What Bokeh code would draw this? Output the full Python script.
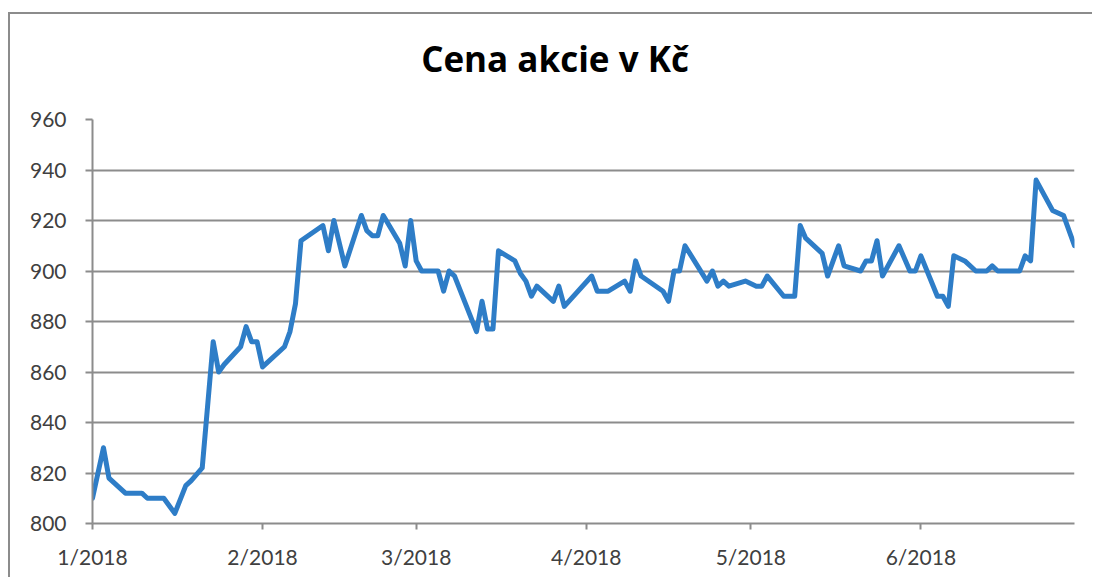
from datetime import datetime
from bokeh.plotting import figure
from bokeh.models import FixedTicker, Range1d, Div
from bokeh.layouts import column
from bokeh.embed import file_html
from bokeh.resources import INLINE

# ---- data ----
dates = [
    "2018-01-01", "2018-01-03", "2018-01-04", "2018-01-07", "2018-01-10", "2018-01-11",
    "2018-01-14", "2018-01-16", "2018-01-18", "2018-01-19", "2018-01-21", "2018-01-23",
    "2018-01-24", "2018-01-25", "2018-01-28", "2018-01-29", "2018-01-30", "2018-01-31",
    "2018-02-01", "2018-02-05", "2018-02-06", "2018-02-07", "2018-02-08", "2018-02-12",
    "2018-02-13", "2018-02-14", "2018-02-16", "2018-02-19", "2018-02-20", "2018-02-21",
    "2018-02-22", "2018-02-23", "2018-02-26", "2018-02-27", "2018-02-28", "2018-03-01",
    "2018-03-02", "2018-03-05", "2018-03-06", "2018-03-07", "2018-03-08", "2018-03-12",
    "2018-03-13", "2018-03-14", "2018-03-15", "2018-03-16", "2018-03-19", "2018-03-20",
    "2018-03-21", "2018-03-22", "2018-03-23", "2018-03-26", "2018-03-27", "2018-03-28",
    "2018-04-02", "2018-04-03", "2018-04-05", "2018-04-08", "2018-04-09", "2018-04-10",
    "2018-04-11", "2018-04-15", "2018-04-16", "2018-04-17", "2018-04-18", "2018-04-19",
    "2018-04-23", "2018-04-24", "2018-04-25", "2018-04-26", "2018-04-27", "2018-04-30",
    "2018-05-02", "2018-05-03", "2018-05-04", "2018-05-07", "2018-05-09", "2018-05-10",
    "2018-05-11", "2018-05-14", "2018-05-15", "2018-05-17", "2018-05-18", "2018-05-21",
    "2018-05-22", "2018-05-23", "2018-05-24", "2018-05-25", "2018-05-28", "2018-05-30",
    "2018-05-31", "2018-06-01", "2018-06-04", "2018-06-05", "2018-06-06", "2018-06-07",
    "2018-06-09", "2018-06-11", "2018-06-13", "2018-06-14", "2018-06-15", "2018-06-19",
    "2018-06-20", "2018-06-21", "2018-06-22", "2018-06-25", "2018-06-27", "2018-06-29",
]
prices = [
    810, 830, 818, 812, 812, 810,
    810, 804, 815, 817, 822, 872,
    860, 863, 870, 878, 872, 872,
    862, 870, 876, 887, 912, 918,
    908, 920, 902, 922, 916, 914,
    914, 922, 911, 902, 920, 904,
    900, 900, 892, 900, 898, 876,
    888, 877, 877, 908, 904, 899,
    896, 890, 894, 888, 894, 886,
    898, 892, 892, 896, 892, 904,
    898, 892, 888, 900, 900, 910,
    896, 900, 894, 896, 894, 896,
    894, 894, 898, 890, 890, 918,
    913, 907, 898, 910, 902, 900,
    904, 904, 912, 898, 910, 900,
    900, 906, 890, 890, 886, 906,
    904, 900, 900, 902, 900, 900,
    906, 904, 936, 924, 922, 910,
]
month_ticks = ["2018-01-01", "2018-02-01", "2018-03-01", "2018-04-01", "2018-05-01", "2018-06-01"]
month_labels = ["1/2018", "2/2018", "3/2018", "4/2018", "5/2018", "6/2018"]
y_ticks = [800, 820, 840, 860, 880, 900, 920, 940, 960]
title_text = "Cena akcie v Kč"

# ---- build ----
EPOCH = datetime(1970, 1, 1)
def to_ms(s):
    return int((datetime.strptime(s, "%Y-%m-%d") - EPOCH).total_seconds() * 1000)

xs = [datetime.strptime(d, "%Y-%m-%d") for d in dates]
tick_ms = [to_ms(t) for t in month_ticks]

GRID = "#8c8c8c"
FONT = "Lato"
W = 1082
TITLE_H = 60

title_div = Div(
    text=('<div style="width:%dpx; padding-top:27px; text-align:center; text-indent:8px; '
          'font-family:\'Open Sans\'; font-weight:bold; font-size:35px; line-height:35px; '
          'color:black; white-space:nowrap;">%s</div>') % (W, title_text),
    width=W, height=TITLE_H, margin=0)

p = figure(width=W, height=563 - TITLE_H, x_axis_type="datetime",
           output_backend="svg", toolbar_location=None,
           x_range=Range1d(datetime(2018, 1, 1), datetime(2018, 6, 29)),
           y_range=Range1d(800, 960),
           min_border_left=82, min_border_right=18,
           min_border_top=105 - TITLE_H, min_border_bottom=54, margin=0)
p.outline_line_color = None
p.background_fill_color = "white"
p.border_fill_color = "white"

p.line(xs, prices, line_color="#2E7DC7", line_width=5, line_join="round", line_cap="round")

# axes
p.xaxis.ticker = FixedTicker(ticks=tick_ms)
p.xaxis.major_label_overrides = {t: l for t, l in zip(tick_ms, month_labels)}
p.yaxis.ticker = FixedTicker(ticks=y_ticks)
for ax in (p.xaxis[0], p.yaxis[0]):
    ax.axis_line_color = GRID
    ax.axis_line_width = 2
    ax.major_tick_line_color = GRID
    ax.major_tick_line_width = 2
    ax.major_tick_in = 0
    ax.minor_tick_line_color = None
    ax.major_label_text_font = FONT
    ax.major_label_text_font_size = "21px"
    ax.major_label_text_color = "#404040"
p.yaxis.major_tick_out = 7
p.yaxis.major_label_standoff = 19
p.xaxis.major_tick_out = 6
p.xaxis.major_label_standoff = 14

p.xgrid.grid_line_color = None
p.ygrid.grid_line_color = GRID
p.ygrid.grid_line_width = 2
p.ygrid.ticker = FixedTicker(ticks=y_ticks)

layout = column(title_div, p, spacing=0)
layout.styles = {"margin-top": "12px", "margin-left": "8px",
                 "border-left": "2px solid #8c8c8c",
                 "border-top": "2px solid #8c8c8c",
                 "background-color": "white"}

open("out.html", "w").write(file_html(layout, INLINE))
